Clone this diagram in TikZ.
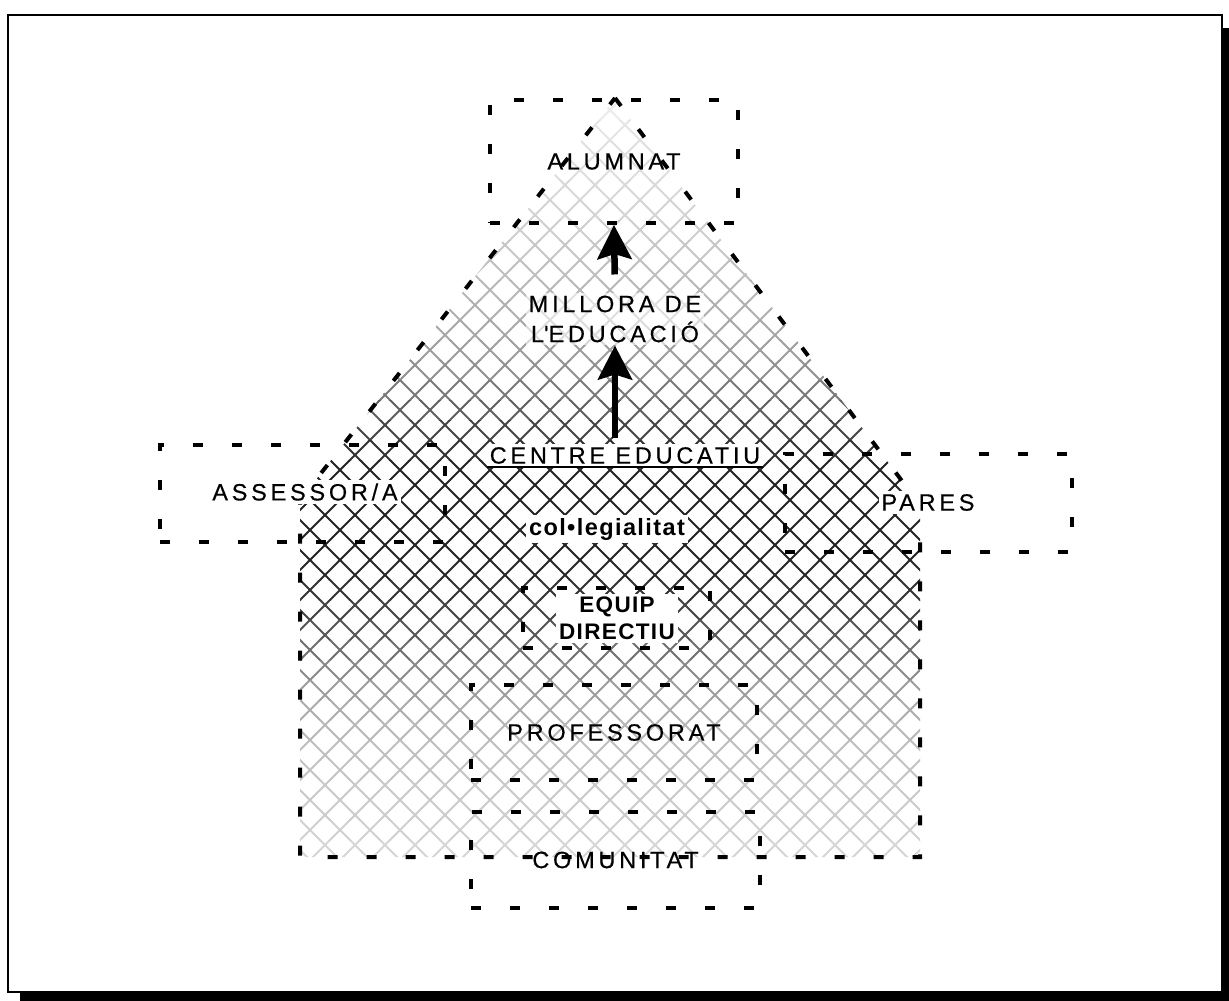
\documentclass[tikz,border=0pt]{standalone}
\usepackage{fontspec}
\setmainfont{Liberation Sans}
\newfontfamily\labfont[LetterSpace=16,FakeBold=0.4]{Liberation Sans}
\newfontfamily\boldlabfont[LetterSpace=6]{Liberation Sans}
\usetikzlibrary{arrows.meta}
\tikzset{
  dashbox/.style={draw, line width=4pt, dash pattern=on 10pt off 29pt, inner sep=0pt},
  houseline/.style={draw, line width=4pt, dash pattern=on 10pt off 29pt},
  lab/.style={font=\labfont\fontsize{23.5}{30}\selectfont, inner sep=2pt, align=center},
  blab/.style={font=\boldlabfont\bfseries\fontsize{22.5}{27}\selectfont, inner sep=2pt, align=center},
  halo/.style={fill=white, inner sep=3pt},
  bigarrow/.style={line width=6.5pt, -{Stealth[length=34pt,width=34pt,inset=5pt]}},
  hatchline/.style={line width=2pt}
}
\begin{document}
\begin{tikzpicture}[x=1pt,y=-1pt]
\useasboundingbox (0,0) rectangle (1229,1001);
\fill[white] (0,0) rectangle (1229,1001);
% frame with shadow
\fill[black] (20,992) rectangle (1229,1001);
\fill[black] (1222,28) rectangle (1229,1001);
\draw[line width=2pt] (8,15) rectangle (1222,992);
% crosshatch inside the house
\begin{scope}
  \clip (615,98) -- (920,505) -- (920,857) -- (300,857) -- (300,500) -- cycle;
  \foreach \ya/\yb/\c in {90/120/8,120/140/10,140/160/12,160/180/13,180/200/15,200/220/17,220/240/19,240/260/22,260/280/25,280/300/28,300/320/31,320/340/34,340/360/38,360/380/43,380/400/52,400/420/62,420/440/73,440/460/80,460/560/86,560/580/84,580/600/80,600/620/74,620/640/66,640/660/56,660/680/46,680/700/38,700/720/32,720/740/28,740/760/25,760/780/23,780/800/21,800/820/20,820/840/18,840/870/16}{
    \begin{scope}
      \clip (0,\ya) rectangle (1229,\yb);
      \draw[hatchline, black!\c] foreach \x in {-460,-430,...,920} { (\x,90) -- ++(780,780) };
      \draw[hatchline, black!\c] foreach \x in {300,330,...,1700} { (\x,90) -- ++(-780,780) };
    \end{scope}
  }
\end{scope}
% house outline
\draw[houseline] (615,98) -- (920,505) -- (920,857) -- (300,857) -- (300,500) -- cycle;
% boxes
\node[dashbox, lab, inner sep=0pt, minimum width=248, minimum height=123] (alumnat) at (614,161.5) {ALUMNAT};
\node[dashbox, minimum width=285, minimum height=97] (assessor) at (302.5,493.5) {};
\node[lab, halo] (assessortext) at (305,492) {ASSESSOR/A};
\node[dashbox, minimum width=287, minimum height=98] (pares) at (928.5,503) {};
\node[lab, halo] (parestext) at (928,502.5) {PARES};
\node[dashbox, minimum width=187, minimum height=60] (equip) at (616.5,618) {};
\node[blab, halo] (equiptext) at (617,618.5) {EQUIP\\DIRECTIU};
\node[dashbox, lab, inner sep=0pt, minimum width=286, minimum height=95] (prof) at (614,732.5) {PROFESSORAT};
\node[dashbox, lab, inner sep=0pt, minimum width=289, minimum height=96] (comun) at (615.5,860) {COMUNITAT};
% texts
\node[lab, halo, fill opacity=0.6, text opacity=1] (millora) at (615,319) {MILLORA DE\\L\textquotesingle EDUCACIÓ};
\node[lab, halo] (centre) at (625,455.5) {CENTRE EDUCATIU};
\draw[line width=2pt] ([yshift=-3pt]centre.base west) -- ([yshift=-3pt]centre.base east);
\node[blab, halo, font=\boldlabfont\bfseries\fontsize{23.5}{27}\selectfont] (coll) at (607,529) {col•legialitat};
% arrows
\draw[bigarrow, shorten <=6pt] (millora.south |- centre.north) -- (millora.south);
\draw[bigarrow, shorten <=18pt] (millora.north) -- (alumnat.south);
\end{tikzpicture}
\end{document}
